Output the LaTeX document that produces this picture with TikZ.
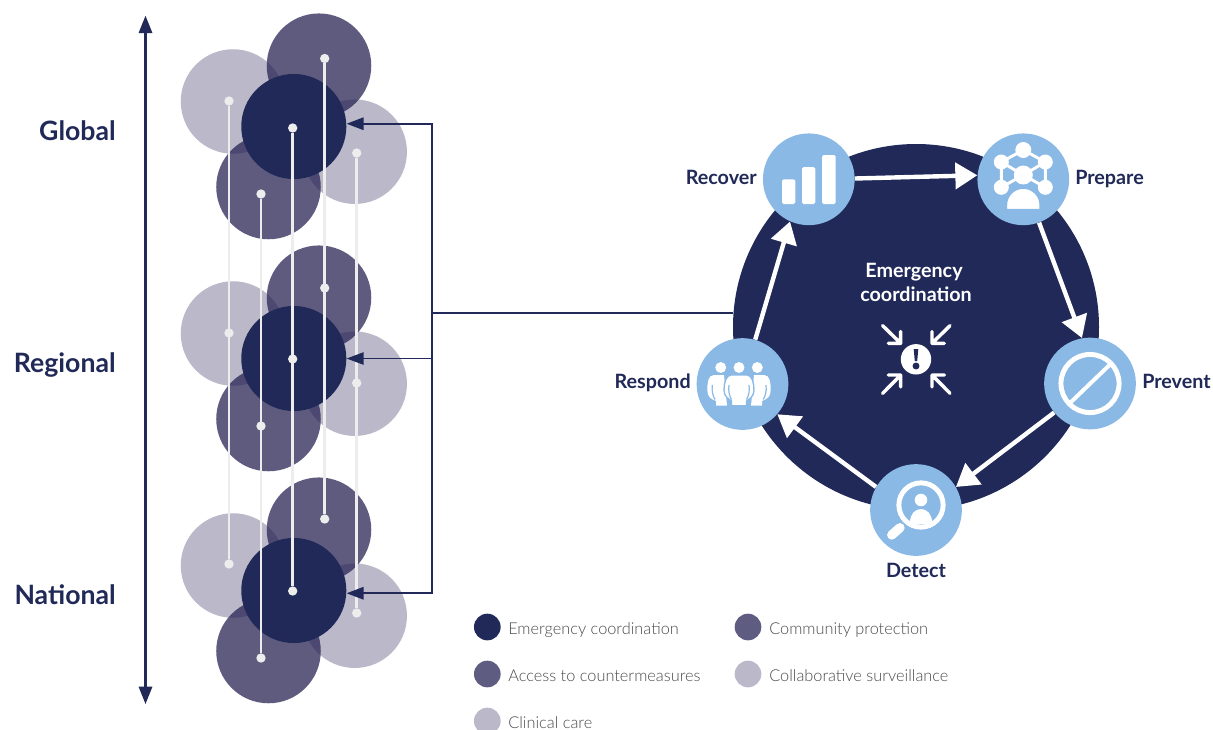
\documentclass[tikz,border=0pt]{standalone}
\usepackage{fontspec}
\usetikzlibrary{arrows.meta}
\setmainfont{Lato}
\newfontfamily\headfont{Lato}[UprightFont=* Bold]
\newfontfamily\lightfont{Lato}[UprightFont=* Light]
\definecolor{navy}{HTML}{202957}
\definecolor{ink}{RGB}{35,30,80}
\definecolor{sky}{HTML}{8AB9E5}
\definecolor{pin}{HTML}{EDEDED}
\definecolor{legtext}{HTML}{4A4A4D}
\definecolor{midc}{HTML}{5F5C82}
\definecolor{lightc}{HTML}{BBB8CA}
\tikzset{
  x=0.75pt,y=-0.75pt,
  disc/.style={circle,inner sep=0pt,minimum size=78.4pt,draw=none},
  darkdisc/.style={disc,fill=navy,minimum size=78.8pt},
  middisc/.style={disc,fill=ink,fill opacity=0.73},
  lightdisc/.style={disc,fill=ink,fill opacity=0.31},
  pindot/.style={circle,inner sep=0pt,minimum size=7pt,fill=pin},
  pinline/.style={draw=pin,line width=1.9pt},
  scaletext/.style={font=\headfont\fontsize{20}{23}\selectfont,text=navy,anchor=base east,inner sep=0pt},
  steptext/.style={font=\headfont\fontsize{14.8}{18}\selectfont,text=navy,inner sep=0pt},
  stepdisc/.style={circle,inner sep=0pt,minimum size=68.8pt,fill=sky},
  bignavy/.style={circle,inner sep=0pt,minimum size=274.5pt,fill=navy},
  flow/.style={draw=white,line width=3.3pt,-{Triangle[length=16.5pt,width=19.5pt]}},
  axisline/.style={draw=navy,line width=1.6pt,{Triangle[length=13pt,width=10pt]}-{Triangle[length=13pt,width=10pt]}},
  bus/.style={draw=navy,line width=1.8pt},
  busarrow/.style={bus,line width=1.6pt,-{Triangle[length=12.75pt,width=9.2pt]}},
  legdisc/.style={circle,inner sep=0pt,minimum size=20pt},
  legtxt/.style={font=\lightfont\fontsize{12.25}{15}\selectfont,text=legtext,anchor=base west,inner sep=0pt},
  smallarrow/.style={draw=white,line width=2.6pt,line cap=round,line join=round},
}
\begin{document}
\begin{tikzpicture}
\useasboundingbox (0,0) rectangle (1213,729);
\clip (0,0) rectangle (1213,729);
% axis
\coordinate (axtop) at (145.5,15.7);
\coordinate (axbot) at (145.5,704);
\draw[axisline] (axbot) -- (axtop);
% clusters
\foreach \lv/\dy in {g/0,r/232,n/464}{
  \node[lightdisc] (\lv l1) at (233,{101.5+\dy}) {};
  \node[lightdisc] (\lv l2) at (354.7,{151.7+\dy}) {};
  \node[middisc] (\lv m1) at (319,{65.7+\dy}) {};
  \node[middisc] (\lv m2) at (268.5,{187+\dy}) {};
  \node[darkdisc] (\lv d) at (293.8,{126.5+\dy}) {};
}
% pins
\node[pindot] (a1) at (229,101) {}; \node[pindot] (a2) at (229,333) {}; \node[pindot] (a3) at (229,564) {};
\node[pindot] (b1) at (261,194) {}; \node[pindot] (b2) at (261,426) {}; \node[pindot] (b3) at (261,658) {};
\node[pindot] (c1) at (292.7,128) {}; \node[pindot] (c2) at (292.7,359) {}; \node[pindot] (c3) at (292.7,591) {};
\node[pindot] (e1) at (324.7,58.5) {}; \node[pindot] (e2) at (324.7,288) {}; \node[pindot] (e3) at (324.7,519) {};
\node[pindot] (f1) at (356.7,153) {}; \node[pindot] (f2) at (356.7,383) {}; \node[pindot] (f3) at (356.7,613) {};
\foreach \p in {a,b,c,e,f}{ \draw[pinline] (\p1) -- (\p3); }
% scale labels
\node[scaletext] (lg) at (116,140) {Global};
\node[scaletext] (lr) at (116,372) {Regional};
\node[scaletext] (ln) at (116,604) {National};
% big circle and steps
\node[bignavy] (big) at (916,327) {};
\coordinate (busx) at (432,313);
\draw[bus,line width=1.5pt] (busx) -- (busx -| big.175.6);
\draw[bus] ([yshift=0.7pt]gd.3 -| busx) -- ([yshift=-0.7pt]nd.-3.8 -| busx);
\draw[busarrow] (gd.3 -| busx) -- (gd.3);
\draw[busarrow,line width=1.2pt] (rd.0 -| busx) -- (rd.0);
\draw[busarrow] (nd.-3.8 -| busx) -- (nd.-3.8);
\node[stepdisc] (recover) at (808.8,179.3) {};
\node[stepdisc] (prepare) at (1023.3,179.3) {};
\node[stepdisc] (prevent) at (1090,383.5) {};
\node[stepdisc] (detect) at (916,510) {};
\node[stepdisc] (respond) at (742.5,384) {};
\draw[flow] (recover.1) -- (prepare.175);
\draw[flow] (prepare.-70) -- (prevent.100);
\draw[flow] (prevent.219) -- (detect.30);
\draw[flow] (detect.150) -- (respond.-41);
\draw[flow] (respond.74) -- (recover.-114);
% labels
\node[steptext,anchor=base east] (trec) at (757,184.5) {Recover};
\node[steptext,anchor=base west] (tpre) at (1075,184.5) {Prepare};
\node[steptext,anchor=base west] (tprv) at (1142,388.5) {Prevent};
\node[steptext,anchor=base east] (tres) at (691,388.5) {Respond};
\node[steptext,anchor=base] (tdet) at (916,577.5) {Detect};
\node[steptext,text=white,anchor=base] (tcen1) at (914,277) {Emergency};
\node[steptext,text=white,anchor=base] (tcen2) at (916,301) {coordination};
% recover icon
\fill[white,rounded corners=1.2pt] (782,179.3) rectangle (795.3,204);
\fill[white,rounded corners=1.2pt] (802,167) rectangle (815.3,204);
\fill[white,rounded corners=1.2pt] (822,155) rectangle (835.7,204);
% prepare icon
\draw[white,line width=2.2pt]
  (1023.3,150) -- (1001.3,162) -- (1001.3,187.3) -- (1023.3,175) -- (1045.3,187.3) -- (1045.3,162) -- cycle
  (1001.3,162) -- (1023.3,175) -- (1045.3,162);
\foreach \cx/\cy/\cr in {1023.3/150/8,1001.3/162/7.5,1045.3/162/7.5,1001.3/187.3/7.5,1045.3/187.3/7.5,1023.3/175/9.5}{
  \fill[white] (\cx,\cy) circle[radius=\cr*0.75pt];
}
\fill[white,draw=sky,line width=1pt] (1006.5,209.5) -- (1006.5,205) arc[start angle=180,end angle=0,radius=12.6pt] -- (1040.1,209.5) -- cycle;
% prevent icon
\draw[white,line width=3.7pt] (1090,383.5) circle[radius=21.8pt];
\draw[white,line width=3pt] (1110,364.5) -- (1070,403);
% detect icon
\draw[white,line width=3.7pt] (921,505) circle[radius=16.6pt];
\draw[white,line width=7pt,line cap=round] (900,527.7) -- (891.7,535);
\fill[white] (921,500) circle[radius=4.7pt];
\fill[white] (910,522.7) .. controls (910,514) and (915,509) .. (921,509) .. controls (927,509) and (932,514) .. (932,522.7) .. controls (926,525) and (916,525) .. (910,522.7) -- cycle;
% respond icon
\foreach \cx in {720.7,739,757.3}{ \fill[white] (\cx,367.5) circle[radius=4.1pt]; }
\fill[white] (714,375) -- (724,375) -- (727,405.5) -- (716,405.5) -- (716,401) .. controls (711,399) and (707.3,397) .. (707.3,390) .. controls (707.3,383) and (708,375) .. (714,375) -- cycle;
\fill[white] (764,375) -- (754,375) -- (751,405.5) -- (762,405.5) -- (762,401) .. controls (767,399) and (770.7,397) .. (770.7,390) .. controls (770.7,383) and (770,375) .. (764,375) -- cycle;
\fill[white,draw=sky,line width=1pt] (731,375) -- (747,375) .. controls (752,375) and (754,383) .. (754,390) .. controls (754,397) and (749,399) .. (746.5,401) -- (746.5,405.7) -- (731.5,405.7) -- (731.5,401) .. controls (729,399) and (724,397) .. (724,390) .. controls (724,383) and (726,375) .. (731,375) -- cycle;
\draw[sky,line width=0.9pt]
  (712.3,385) .. controls (711.5,391) and (713,396) .. (715,399.5)
  (766,385) .. controls (766.8,391) and (765.3,396) .. (763.3,399.5)
  (729,385) .. controls (728,391) and (729.5,396) .. (731.5,399.5)
  (749,385) .. controls (750,391) and (748.5,396) .. (746.5,399.5);
% centre icon
\fill[white] (916,359.3) circle[radius=11.4pt];
\fill[navy] (913.7,349) -- (918.3,349) -- (917.2,361) -- (914.8,361) -- cycle;
\fill[navy] (916,366) circle[radius=2.6pt];
\draw[smallarrow] (882.7,325.7) -- (900.7,343.3) (900.7,331.5) -- (900.7,343.3) -- (888.3,343.3);
\draw[smallarrow] (950,325.7) -- (932,343.3) (932,331.5) -- (932,343.3) -- (944.3,343.3);
\draw[smallarrow] (882.7,393.3) -- (900.7,375) (900.7,386.8) -- (900.7,375) -- (888.3,375);
\draw[smallarrow] (950,393.3) -- (932,375) (932,386.8) -- (932,375) -- (944.3,375);
% legend
\node[legdisc,fill=navy] (k1) at (487.3,627) {};
\node[legdisc,fill=midc] (k2) at (748,627) {};
\node[legdisc,fill=midc] (k3) at (487.3,674) {};
\node[legdisc,fill=lightc] (k4) at (748,674) {};
\node[legdisc,fill=lightc] (k5) at (487.3,721) {};
\node[legtxt] (t1) at (508,634) {Emergency coordination};
\node[legtxt] (t2) at (769,634) {Community protection};
\node[legtxt] (t3) at (508,681) {Access to countermeasures};
\node[legtxt] (t4) at (769,681) {Collaborative surveillance};
\node[legtxt] (t5) at (508,728) {Clinical care};
\end{tikzpicture}
\end{document}
